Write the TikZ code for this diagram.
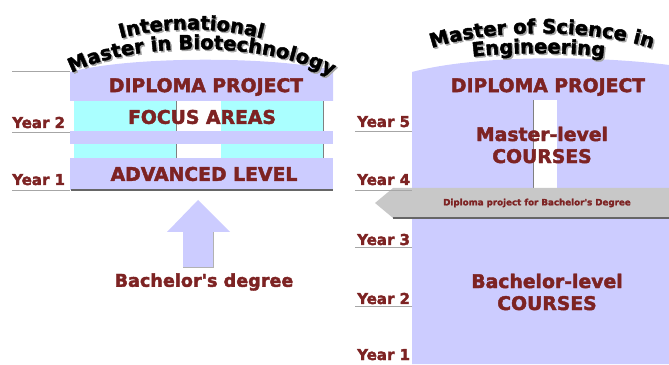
\documentclass[tikz,border=0pt]{standalone}
\usepackage{fontspec}
\setmainfont{DejaVu Sans}[BoldFeatures={FakeBold=2.2}]
\usetikzlibrary{decorations.text}

\definecolor{lila}{RGB}{204,204,255}
\definecolor{cian}{RGB}{170,255,255}
\definecolor{granate}{RGB}{125,35,35}
\definecolor{gris}{RGB}{200,200,200}
\newcommand{\titulo}{\bfseries\fontsize{19.5}{19.5}\selectfont}

\tikzset{
  etiqueta/.style={text=granate, font=\bfseries\fontsize{18.8}{22}\selectfont, align=center, inner sep=0pt},
  anio/.style={text=granate, font=\bfseries\fontsize{15}{17}\selectfont, inner sep=0pt, anchor=base west},
  linea/.style={draw=gray!70, line width=0.8pt},
  sombra/.style={draw=gray!80!black, line width=1.2pt},
}

\begin{document}
\begin{tikzpicture}[x=1pt, y=1pt]
\useasboundingbox (0,0) rectangle (669,364);

% Lado izquierdo: bloques del master
\fill[cian] (74,206) rectangle (176,263);
\fill[cian] (221,206) rectangle (323,263);
\draw[gray] (176,206) -- (176,263);
\draw[gray] (323,206) -- (323,263);
\fill[lila] (70,220) rectangle (333,233);
\fill[lila] (70,263) -- (70,292) .. controls (130,308) and (270,308) .. (333,294) -- (333,263) -- cycle;
\fill[lila] (70,174) rectangle (333,206);
\draw[sombra] (71,174) -- (333,174);

% Lineas de los anios (izquierda)
\draw[linea] (12,293) -- (70,293);
\draw[linea] (12,232) -- (70,232);
\draw[linea] (12,174) -- (70,174);
\node[anio] (izq2) at (12,236) {Year 2};
\node[anio] (izq1) at (12,179) {Year 1};

% Textos de los bloques
\node[etiqueta] (dipizq) at (206,277) {DIPLOMA PROJECT};
\node[etiqueta] (focus) at (202,247) {FOCUS AREAS};
\node[etiqueta] (advanced) at (204,190) {ADVANCED LEVEL};

% Flecha hacia arriba
\fill[lila] (183,97) -- (183,132) -- (167,132) -- (198,164) -- (230,132) -- (213,132) -- (213,97) -- cycle;
\draw[gray!60] (183,97) -- (213,97) -- (213,132);
\node[etiqueta, font=\bfseries\fontsize{17.6}{20}\selectfont] (bachizq) at (204,82) {Bachelor\textquotesingle s degree};

% Titulo izquierdo (sombra y texto)
\path[decorate, decoration={text along path, text align=center, text={|\titulo\color{gray!70}|International}}]
  (116.5,322.5) .. controls (161.5,336.5) and (221.5,336.5) .. (269.5,322.5);
\path[decorate, decoration={text along path, text align=center, text={|\titulo|International}}]
  (115,324) .. controls (160,338) and (220,338) .. (268,324);
\path[decorate, decoration={text along path, text align=center, text={|\titulo\color{gray!70}|Master in Biotechnology}}]
  (69.5,287.5) .. controls (131.5,322.5) and (271.5,322.5) .. (336.5,284.5);
\path[decorate, decoration={text along path, text align=center, text={|\titulo|Master in Biotechnology}}]
  (68,289) .. controls (130,324) and (270,324) .. (335,286);

% Lado derecho: bloque de ingenieria
\fill[lila] (412,0) -- (412,292) .. controls (480,310) and (600,308) .. (669,299) -- (669,0) -- cycle;
\fill[white] (533,174) rectangle (557,264);
\draw[gray] (533,174) -- (533,264);

% Flecha gris del proyecto de grado
\fill[gris] (375,161) -- (393,176) -- (669,176) -- (669,146) -- (393,146) -- cycle;
\draw[sombra] (393,146) -- (669,146);
\node[text=granate, font=\bfseries\fontsize{8.7}{10}\selectfont, inner sep=0pt] (dipbach) at (537,161) {Diploma project for Bachelor\textquotesingle s Degree};

% Lineas de los anios (derecha)
\draw[linea] (355,233) -- (412,233);
\draw[linea] (355,174) -- (412,174);
\draw[linea] (355,117) -- (412,117);
\draw[linea] (355,58) -- (412,58);
\node[anio] (der5) at (357,237) {Year 5};
\node[anio] (der4) at (357,179) {Year 4};
\node[anio] (der3) at (357,119) {Year 3};
\node[anio] (der2) at (357,60) {Year 2};
\node[anio] (der1) at (357,4) {Year 1};

% Textos del bloque derecho
\node[etiqueta] (dipder) at (548,277) {DIPLOMA PROJECT};
\node[etiqueta] (master) at (542,219) {Master-level\\COURSES};
\node[etiqueta] (bachelor) at (547,72) {Bachelor-level\\COURSES};

% Titulo derecho (sombra y texto)
\path[decorate, decoration={text along path, text align=center, text={|\titulo\color{gray!70}|Master of Science in}}]
  (423.5,310.5) .. controls (481.5,335.5) and (601.5,335.5) .. (663.5,310.5);
\path[decorate, decoration={text along path, text align=center, text={|\titulo|Master of Science in}}]
  (422,312) .. controls (480,337) and (600,337) .. (662,312);
\path[decorate, decoration={text along path, text align=center, text={|\titulo\color{gray!70}|Engineering}}]
  (471.5,305.5) .. controls (511.5,310.5) and (566.5,310.5) .. (608.5,305.5);
\path[decorate, decoration={text along path, text align=center, text={|\titulo|Engineering}}]
  (470,307) .. controls (510,312) and (565,312) .. (607,307);
\end{tikzpicture}
\end{document}
